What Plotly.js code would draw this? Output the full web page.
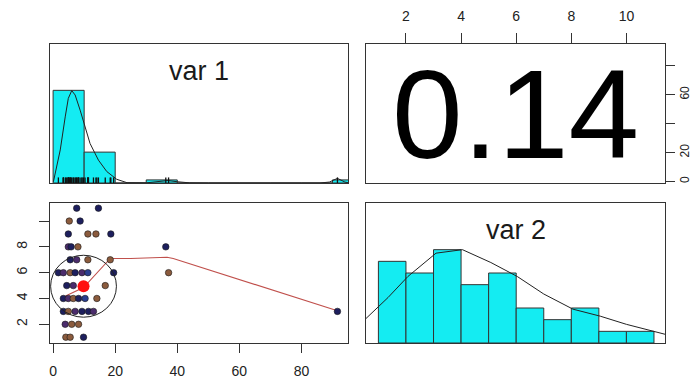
<!DOCTYPE html>
<html>
<head>
<meta charset="utf-8">
<script src="https://cdn.plot.ly/plotly-3.0.1.min.js"></script>
<style>
  html, body { margin: 0; padding: 0; background: #ffffff; }
  #chart { width: 693px; height: 380px; }
</style>
</head>
<body>
<div id="chart"></div>
<script>
// ---------- data ----------
// scatter (var 1 on x, var 2 on y)
var var1 = [7.6, 14.6,
            5.2, 8.7,
            4.9, 11.2, 13.8, 18.6,
            4.9, 5.8, 8.0, 36.3,
            5.5, 7.6, 11.2, 18.4,
            1.7, 3.3, 5.5, 7.1, 9.3, 11.2, 19.5, 37.2,
            4.4, 6.5, 16.8,
            3.3, 4.9, 6.5, 8.2, 10.3, 14.1,
            3.3, 4.9, 7.1, 9.3, 11.4, 13.0,
            3.9, 6.0, 8.2,
            4.1, 5.5, 9.8,
            91.6];
var var2 = [11, 11,
            10, 10,
            9, 9, 9, 9,
            8, 8, 8, 8,
            7, 7, 7, 7,
            6, 6, 6, 6, 6, 6, 6, 6,
            5, 5, 5,
            4, 4, 4, 4, 4, 4,
            3, 3, 3, 3, 3, 3,
            2, 2, 2,
            1, 1, 1,
            3];
var pointGroup = [0, 0,
                  1, 0,
                  0, 1, 1, 0,
                  2, 0, 1, 0,
                  0, 2, 1, 1,
                  0, 2, 1, 0, 2, 3, 0, 1,
                  0, 2, 1,
                  0, 2, 1, 0, 3, 1,
                  0, 1, 2, 0, 0, 2,
                  2, 1, 1,
                  1, 1, 0,
                  0];
var meanPoint = [9.8, 4.95];           // var1, var2 means
var ellipseCenter = [9.8, 4.95];
var ellipseRadius = [10.6, 2.4];
var smoothX = [4.0, 9.8, 18.4, 25.0, 36.7, 38.7, 91.6];
var smoothY = [4.2, 4.85, 7.1, 7.1, 7.2, 7.1, 3.05];

// var 1 histogram
var hist1Edges  = [0, 10, 20, 30, 40, 50, 60, 70, 80, 90, 100];
var hist1Counts = [30, 10, 0, 1, 0, 0, 0, 0, 0, 1];
var dens1X = [0.1, 2.3, 3.9, 4.9, 6.0, 7.1, 8.7, 10.3, 11.9, 14.6, 17.3, 20.5, 23.8, 30, 34, 37, 40, 44, 50, 86, 89, 91.6, 94, 95];
var dens1Y = [0.4, 10.7, 21.4, 27.4, 29.9, 28.5, 23.6, 18.2, 12.8, 7.4, 3.7, 1.2, 0.1, 0.05, 0.4, 0.8, 0.4, 0.05, 0, 0, 0.3, 1.5, 0.3, 0.1];

// var 2 histogram
var hist2Edges  = [1, 2, 3, 4, 5, 6, 7, 8, 9, 10, 11];
var hist2Counts = [7, 6, 8, 5, 6, 3, 2, 3, 1, 1];
var dens2X = [0.55, 1.35, 2.07, 3.09, 4.05, 5.08, 6.04, 7.0, 8.06, 9.05, 10.0, 11.0, 11.4];
var dens2Y = [2.1, 3.9, 5.7, 7.7, 8.0, 6.9, 5.7, 4.2, 2.9, 2.3, 1.6, 1.0, 0.75];

var corrText = "0.14";
var diagLabels = ["var 1", "var 2"];

var var1Ticks = [0, 20, 40, 60, 80];
var var1TickText = ["0", "20", "40", "60", "80"];
var var1RightText = ["0", "20", "", "60", ""];
var var2Ticks = [2, 4, 6, 8, 10];
var var2TopText = ["2", "4", "6", "8", "10"];
var var2LeftText = ["2", "4", "6", "8", ""];

// ---------- styling ----------
var palette = ["#1d1f5e", "#8b5b3d", "#4b2c6c", "#2b3f8f"];
var barFill = "#14ecf2";
var edge = "#333333";
var font = "Liberation Sans, Arial, Helvetica, sans-serif";
var var1Range = [-1, 95];
var var2Range = [0.55, 11.4];

function centers(edges) {
  var c = [];
  for (var i = 0; i < edges.length - 1; i++) c.push((edges[i] + edges[i + 1]) / 2);
  return c;
}
function widths(edges) {
  var w = [];
  for (var i = 0; i < edges.length - 1; i++) w.push(edges[i + 1] - edges[i]);
  return w;
}
var max1 = Math.max.apply(null, hist1Counts);
var max2 = Math.max.apply(null, hist2Counts);

var traces = [
  { type: "bar", x: centers(hist1Edges), y: hist1Counts, width: widths(hist1Edges),
    xaxis: "x", yaxis: "y",
    marker: { color: barFill, line: { color: edge, width: 1 } }, hoverinfo: "skip" },
  { type: "scatter", mode: "lines", x: dens1X, y: dens1Y, xaxis: "x", yaxis: "y",
    line: { color: "#222222", width: 1 }, hoverinfo: "skip" },
  { type: "scatter", mode: "markers", x: var1, y: var1.map(function () { return max1 * 0.03; }),
    xaxis: "x", yaxis: "y",
    marker: { symbol: "line-ns-open", size: 4, color: "#111111", line: { color: "#111111", width: 1.3 } }, hoverinfo: "skip" },

  { type: "scatter", mode: "markers", x: [], y: [], xaxis: "x2", yaxis: "y2", hoverinfo: "skip" },

  { type: "scatter", mode: "lines", x: smoothX, y: smoothY, xaxis: "x3", yaxis: "y3",
    line: { color: "#c0504c", width: 1.1 }, hoverinfo: "skip" },
  { type: "scatter", mode: "markers", x: var1, y: var2, xaxis: "x3", yaxis: "y3",
    marker: { size: 6.5, color: pointGroup.map(function (g) { return palette[g]; }),
              line: { color: "#1a1a1a", width: 0.6 } }, hoverinfo: "skip" },
  { type: "scatter", mode: "markers", x: [meanPoint[0]], y: [meanPoint[1]], xaxis: "x3", yaxis: "y3",
    marker: { size: 12, color: "#ff1010" }, hoverinfo: "skip" },

  { type: "bar", x: centers(hist2Edges), y: hist2Counts, width: widths(hist2Edges),
    xaxis: "x4", yaxis: "y4",
    marker: { color: barFill, line: { color: edge, width: 1 } }, hoverinfo: "skip" },
  { type: "scatter", mode: "lines", x: dens2X, y: dens2Y, xaxis: "x4", yaxis: "y4",
    line: { color: "#222222", width: 1 }, hoverinfo: "skip" }
];

var W = 693, H = 380;
var colL = [50 / W, 348 / W], colR = [366 / W, 665 / W];
var rowT = [1 - 183 / H, 1 - 44 / H], rowB = [1 - 343 / H, 1 - 203 / H];

function box(extra) {
  var a = { showgrid: false, zeroline: false, showline: true, mirror: true,
            linecolor: edge, linewidth: 1, ticks: "", showticklabels: false, fixedrange: true };
  for (var k in extra) a[k] = extra[k];
  return a;
}
var tickFont = { family: font, size: 14, color: "#222222" };
var rightFont = { family: font, size: 12, color: "#222222" };

var layout = {
  width: W, height: H,
  margin: { l: 0, r: 0, t: 0, b: 0 },
  paper_bgcolor: "#ffffff", plot_bgcolor: "#ffffff",
  showlegend: false, barmode: "overlay", bargap: 0,
  xaxis:  box({ domain: colL, range: var1Range, anchor: "y" }),
  yaxis:  box({ domain: rowT, range: [0, max1 * 1.5], anchor: "x" }),
  xaxis2: box({ domain: colR, range: var2Range, anchor: "y2", side: "top",
                ticks: "outside", ticklen: 10, tickcolor: edge, showticklabels: true, ticklabelstandoff: 6,
                tickmode: "array", tickvals: var2Ticks, ticktext: var2TopText, tickfont: tickFont }),
  yaxis2: box({ domain: rowT, range: var1Range, anchor: "x2", side: "right",
                ticks: "outside", ticklen: 9, tickcolor: edge, showticklabels: true, tickangle: -90,
                tickmode: "array", tickvals: var1Ticks, ticktext: var1RightText, tickfont: rightFont }),
  xaxis3: box({ domain: colL, range: var1Range, anchor: "y3",
                ticks: "outside", ticklen: 9, tickcolor: edge, showticklabels: true, ticklabelstandoff: 6,
                tickmode: "array", tickvals: var1Ticks, ticktext: var1TickText, tickfont: tickFont }),
  yaxis3: box({ domain: rowB, range: var2Range, anchor: "x3",
                ticks: "outside", ticklen: 10, tickcolor: edge, showticklabels: true, tickangle: -90,
                ticklabelstandoff: 6,
                tickmode: "array", tickvals: var2Ticks, ticktext: var2LeftText, tickfont: tickFont }),
  xaxis4: box({ domain: colR, range: var2Range, anchor: "y4" }),
  yaxis4: box({ domain: rowB, range: [0, max2 * 1.5], anchor: "x4" }),
  shapes: [
    { type: "circle", xref: "x3", yref: "y3",
      x0: ellipseCenter[0] - ellipseRadius[0], x1: ellipseCenter[0] + ellipseRadius[0],
      y0: ellipseCenter[1] - ellipseRadius[1], y1: ellipseCenter[1] + ellipseRadius[1],
      line: { color: "#222222", width: 1 } }
  ],
  annotations: [
    { text: diagLabels[0], xref: "x domain", yref: "y domain", x: 0.5, y: 0.806,
      xanchor: "center", yanchor: "middle", showarrow: false,
      font: { family: font, size: 27, color: "#1a1a1a" } },
    { text: diagLabels[1], xref: "x4 domain", yref: "y4 domain", x: 0.5, y: 0.807,
      xanchor: "center", yanchor: "middle", showarrow: false,
      font: { family: font, size: 27, color: "#1a1a1a" } },
    { text: corrText, xref: "x2 domain", yref: "y2 domain", x: 0.5, y: 0.5,
      xanchor: "center", yanchor: "middle", showarrow: false,
      font: { family: font, size: 127, color: "#000000" } }
  ]
};

Plotly.newPlot("chart", traces, layout, { staticPlot: true, displayModeBar: false });
</script>
</body>
</html>
